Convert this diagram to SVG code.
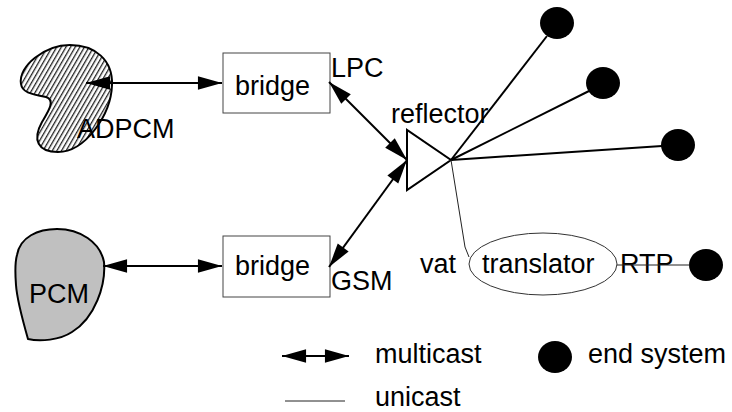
<svg xmlns="http://www.w3.org/2000/svg" width="732" height="412" viewBox="0 0 732 412">
<style>
text{font-family:"Liberation Sans",Arial,sans-serif;font-size:27px;fill:#000}
.mc{stroke:#000;stroke-width:2;fill:none;marker-start:url(#ah);marker-end:url(#ah)}
.bc{stroke:#000;stroke-width:2;fill:none}
.uc{stroke:#222;stroke-width:1;fill:none}
.box{fill:#fff;stroke:#444;stroke-width:1}
.es{fill:#000}
</style>
<defs>
<marker id="ah" markerUnits="userSpaceOnUse" markerWidth="26" markerHeight="16" viewBox="-1 -8 27 16" refX="25" refY="0" orient="auto-start-reverse">
<path d="M0,-7 L25,0 L0,7 Z" fill="#000"/>
</marker>
<pattern id="hatch" patternUnits="userSpaceOnUse" width="4" height="4" patternTransform="rotate(30)">
<rect width="4" height="4" fill="#fff"/>
<rect width="1.3" height="4" fill="#222"/>
</pattern>
</defs>
<g id="adpcm">
<path d="M21,84 C18,66 45,45 70,45 C95,45 113,60 112,85 C111,115 85,152 58,152 C38,152 32,140 42,122 C48,112 56,100 46,97 C30,94 22,92 21,84 Z" fill="url(#hatch)" stroke="#000" stroke-width="2"/>
<text x="77" y="138">ADPCM</text>
</g>
<g id="pcm">
<path d="M17,255 C20,237 38,229 57,229 C80,229 100,242 104,262 C106,285 95,318 72,332 C60,340 40,342 28,339 C24,325 17,300 16,285 C15,272 15,262 17,255 Z" fill="#c0c0c0" stroke="#000" stroke-width="2"/>
<text x="29" y="303">PCM</text>
</g>
<g id="bridge1">
<rect class="box" x="223" y="53" width="107" height="60"/>
<text x="235" y="95">bridge</text>
<text x="331" y="77">LPC</text>
</g>
<g id="bridge2">
<rect class="box" x="223" y="236" width="107" height="61"/>
<text x="235" y="275">bridge</text>
<text x="331" y="290">GSM</text>
</g>
<g id="reflector">
<polygon points="407,130 407,190 451,160" fill="#fff" stroke="#000" stroke-width="2"/>
<text x="391" y="123">reflector</text>
</g>
<g id="translator">
<ellipse cx="543" cy="264" rx="74" ry="31" fill="#fff" stroke="#333" stroke-width="1"/>
<text x="482" y="273">translator</text>
<text x="420" y="273">vat</text>
<text x="620" y="273">RTP</text>
</g>
<g id="es1"><ellipse class="es" cx="557" cy="23" rx="17" ry="16"/></g>
<g id="es2"><ellipse class="es" cx="603" cy="83" rx="17" ry="16"/></g>
<g id="es3"><ellipse class="es" cx="678" cy="145" rx="17" ry="16"/></g>
<g id="es4"><ellipse class="es" cx="706" cy="265" rx="17" ry="16"/></g>
<g id="connectors">
<line class="mc" x1="86" y1="83" x2="222" y2="83"/>
<line class="mc" x1="103" y1="266" x2="222" y2="266"/>
<line class="mc" x1="329" y1="82" x2="407" y2="160"/>
<line class="mc" x1="407" y1="160" x2="329" y2="267"/>
<line class="bc" x1="451" y1="160" x2="547" y2="36"/>
<line class="bc" x1="451" y1="160" x2="589" y2="91"/>
<line class="bc" x1="451" y1="160" x2="662" y2="146"/>
<path class="uc" d="M451,160 L465,247 L469,257"/>
<line class="uc" x1="617" y1="265" x2="690" y2="265"/>
</g>
<g id="legend">
<line class="mc" x1="282" y1="356" x2="349" y2="356"/>
<text x="375" y="363">multicast</text>
<ellipse class="es" cx="555" cy="357" rx="17" ry="16"/>
<text x="588" y="363">end system</text>
<line class="uc" x1="285" y1="401" x2="345" y2="401"/>
<text x="375" y="406">unicast</text>
</g>
</svg>
